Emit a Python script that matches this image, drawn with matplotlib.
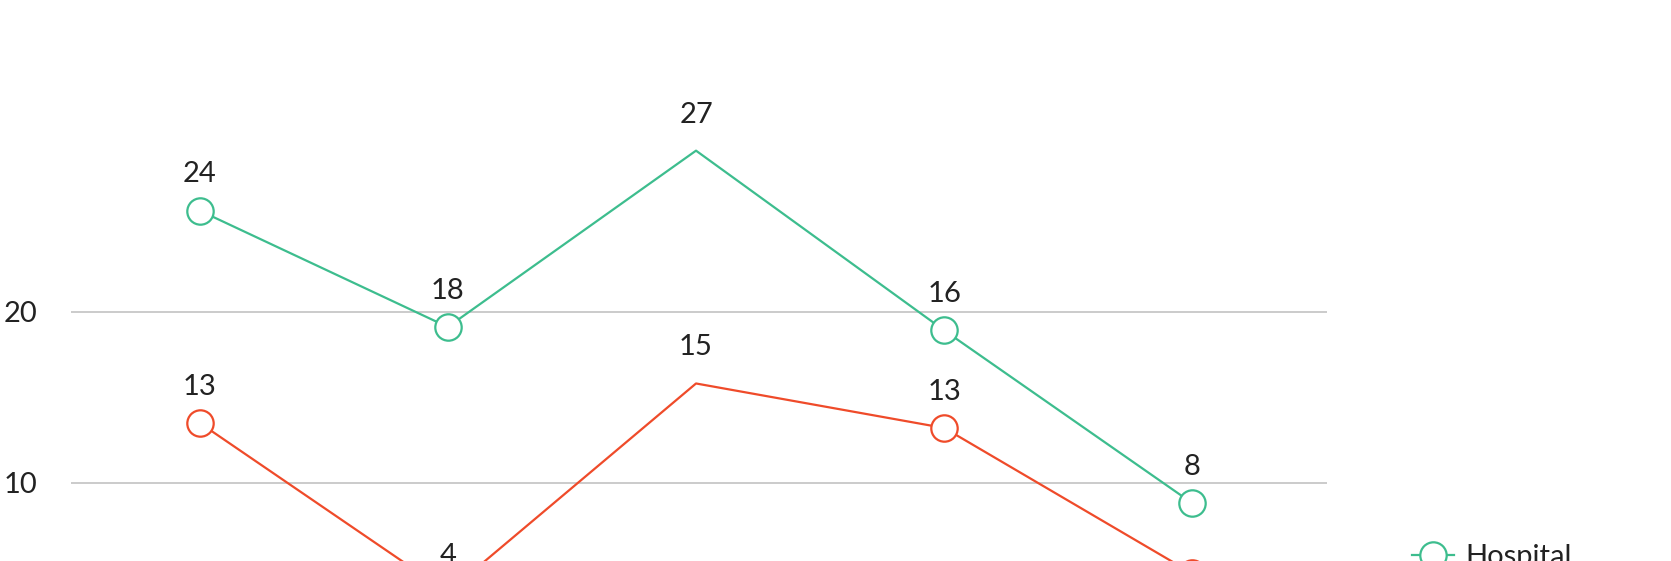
import matplotlib
matplotlib.use("Agg")
import matplotlib.pyplot as plt
from matplotlib.lines import Line2D

plt.rcParams["font.family"] = ["Lato", "DejaVu Sans"]

# ----- data -----
categories = ["A", "B", "C", "D", "E"]
hospital_values = [25.9, 19.1, 29.4, 18.9, 8.8]
hospital_labels = ["24", "18", "27", "16", "8"]
other_values = [13.5, 3.6, 15.8, 13.2, 4.7]
other_labels = ["13", "4", "15", "13", None]
y_ticks = [10, 20]

GREEN = "#3dbd8e"
RED = "#ef4b2a"
TEXT = "#222222"
GRID = "#bdbdbd"
FS = 21

W, H, DPI = 1671, 561, 100
fig = plt.figure(figsize=(W / DPI, H / DPI), dpi=DPI)
ax = fig.add_axes([71 / W, 0, (1327 - 71) / W, 1])

x = list(range(len(categories)))
marker_idx = [0, 1, 3, 4]

for vals, labels, color in [
    (hospital_values, hospital_labels, GREEN),
    (other_values, other_labels, RED),
]:
    ax.plot(x, vals, color=color, lw=1.6, marker="o", markevery=marker_idx,
            ms=19, mfc="white", mec=color, mew=1.6, zorder=3)
    for xi, v, lab in zip(x, vals, labels):
        if lab is None:
            continue
        ax.annotate(lab, (xi, v), xytext=(0, 26), textcoords="offset points",
                    ha="center", va="center", fontsize=FS, color=TEXT,
                    annotation_clip=False)

ax.set_xlim(-0.518, 4.542)
ax.set_ylim(5.43, 38.2)
ax.set_yticks(y_ticks)
ax.set_xticks([])
ax.tick_params(axis="y", length=0, pad=24, labelsize=FS, labelcolor=TEXT)
ax.yaxis.grid(True, color=GRID, lw=1.1)
ax.set_axisbelow(True)
for s in ax.spines.values():
    s.set_visible(False)

handle = Line2D([], [], color=GREEN, lw=1.6, marker="o", ms=19,
                mfc="white", mec=GREEN, mew=1.6)
fig.legend([handle], ["Hospital"], loc="center left",
           bbox_to_anchor=(1411.7 / W, 1 - 557 / H), frameon=False,
           fontsize=FS, labelcolor=TEXT, borderpad=0, borderaxespad=0,
           handlelength=1.44, handletextpad=0.39, numpoints=1)

fig.savefig("out.png", dpi=DPI)
